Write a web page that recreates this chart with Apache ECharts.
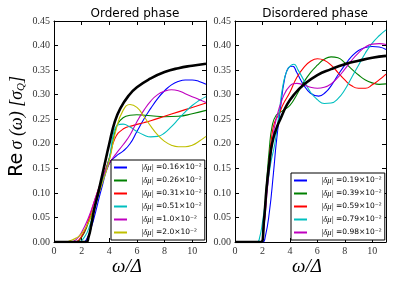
<!DOCTYPE html>
<html><head><meta charset="utf-8">
<script src="https://cdn.jsdelivr.net/npm/echarts@6/dist/echarts.min.js"></script>
<style>html,body{margin:0;padding:0;background:#fff}#c{width:394px;height:285px}</style>
</head><body><div id="c"></div>
<script>
// Tick labels
const xTicks = [0, 2, 4, 6, 8, 10];
const yTicks = [0, 0.05, 0.10, 0.15, 0.20, 0.25, 0.30, 0.35, 0.40, 0.45];
const titles = ['Ordered phase', 'Disordered phase'];

// Ordered phase
const ordNames = ['|δμ| =0.16×10⁻²', '|δμ| =0.26×10⁻²', '|δμ| =0.31×10⁻²', '|δμ| =0.51×10⁻²', '|δμ| =1.0×10⁻²', '|δμ| =2.0×10⁻²'];
const ordBlack = [[0,0],[2.3,0],[2.5,0.01],[2.7,0.035],[2.9,0.065],[3.2,0.1],[3.6,0.15],[4,0.2],[4.4,0.245],[4.8,0.272],[5.4,0.298],[6,0.315],[7,0.333],[8,0.346],[9,0.354],[10,0.359],[11,0.363]];
const ord016 = [[0,0],[2.1,0],[2.4,0.008],[2.7,0.03],[3,0.06],[3.5,0.115],[4,0.16],[4.5,0.175],[5,0.185],[5.5,0.2],[6,0.225],[6.5,0.25],[7,0.272],[7.5,0.292],[8,0.308],[8.5,0.32],[9,0.327],[9.5,0.33],[10,0.33],[10.5,0.327],[11,0.321]];
const ord026 = [[0,0],[1.5,0],[2,0.01],[2.5,0.04],[3,0.08],[3.5,0.125],[4,0.17],[4.3,0.21],[4.6,0.24],[5,0.253],[5.5,0.258],[6,0.259],[7,0.257],[8,0.255],[9,0.256],[10,0.261],[11,0.268]];
const ord031 = [[0,0],[1.4,0],[2,0.012],[2.5,0.045],[3,0.09],[3.5,0.13],[4,0.17],[4.4,0.21],[5,0.23],[5.7,0.237],[6.5,0.243],[7,0.247],[8,0.256],[9,0.265],[10,0.274],[11,0.283]];
const ord051 = [[0,0],[1.7,0],[2.2,0.01],[2.6,0.035],[3,0.075],[3.5,0.125],[4,0.17],[4.3,0.22],[4.6,0.238],[5,0.24],[5.5,0.234],[6,0.225],[6.5,0.218],[7,0.214],[7.5,0.215],[8,0.222],[8.5,0.235],[9,0.25],[9.5,0.265],[10,0.278],[10.5,0.288],[11,0.296]];
const ord10 = [[0,0],[1.2,0],[1.6,0.005],[2,0.02],[2.5,0.05],[3,0.09],[3.5,0.13],[4,0.16],[4.5,0.18],[5,0.198],[5.5,0.218],[6,0.245],[6.5,0.268],[7,0.287],[7.5,0.3],[8,0.307],[8.5,0.31],[9,0.308],[9.5,0.302],[10,0.296],[10.5,0.29],[11,0.284]];
const ord20 = [[0,0],[0.8,0],[1.2,0.003],[1.6,0.008],[2,0.017],[2.5,0.04],[3,0.078],[3.5,0.12],[4,0.165],[4.5,0.23],[5,0.268],[5.5,0.28],[6,0.274],[6.5,0.256],[7,0.236],[7.5,0.218],[8,0.205],[8.5,0.197],[9,0.194],[9.5,0.194],[10,0.197],[10.5,0.205],[11,0.215]];

// Disordered phase
const disNames = ['|δμ| =0.19×10⁻²', '|δμ| =0.39×10⁻²', '|δμ| =0.59×10⁻²', '|δμ| =0.79×10⁻²', '|δμ| =0.98×10⁻²'];
const disBlack = [[0,0],[1.9,0],[2.1,0.04],[2.3,0.11],[2.5,0.16],[2.7,0.2],[3,0.23],[3.3,0.25],[3.8,0.28],[4.3,0.3],[5,0.32],[6,0.34],[7,0.352],[8,0.362],[9,0.369],[10,0.375],[11,0.379]];
const dis019 = [[0,0],[2,0],[2.2,0.01],[2.5,0.06],[2.8,0.14],[3,0.2],[3.3,0.27],[3.6,0.33],[3.9,0.355],[4.2,0.358],[4.5,0.345],[5,0.32],[5.5,0.303],[6.1,0.297],[6.6,0.305],[7,0.318],[7.5,0.34],[8,0.36],[8.5,0.378],[9,0.39],[9.5,0.396],[10,0.398],[10.5,0.397],[11,0.392]];
const dis039 = [[0,0],[1.9,0],[2.1,0.04],[2.3,0.12],[2.5,0.19],[2.7,0.235],[3,0.258],[3.5,0.268],[4,0.278],[4.5,0.3],[5,0.325],[5.5,0.345],[6,0.36],[6.5,0.372],[7,0.377],[7.5,0.375],[8,0.365],[8.5,0.352],[9,0.34],[9.5,0.33],[10,0.324],[10.5,0.321],[11,0.322]];
const dis059 = [[0,0],[1.9,0],[2.1,0.03],[2.3,0.1],[2.5,0.17],[2.7,0.22],[2.9,0.245],[3.2,0.26],[3.5,0.28],[4,0.305],[4.5,0.335],[5,0.355],[5.5,0.368],[6,0.373],[6.5,0.37],[7,0.36],[7.5,0.345],[8,0.33],[8.5,0.318],[9,0.313],[9.5,0.313],[10,0.32],[10.5,0.33],[11,0.342]];
const dis079 = [[0,0],[1.6,0],[1.8,0.01],[2,0.04],[2.3,0.1],[2.6,0.16],[2.9,0.2],[3.2,0.26],[3.5,0.32],[3.8,0.35],[4.1,0.36],[4.3,0.362],[4.6,0.35],[5,0.33],[5.5,0.305],[6,0.29],[6.5,0.282],[7,0.283],[7.5,0.292],[8,0.31],[8.5,0.335],[9,0.36],[9.5,0.385],[10,0.405],[10.5,0.42],[11,0.432]];
const dis098 = [[0,0],[1.9,0],[2.1,0.03],[2.4,0.12],[2.7,0.2],[3,0.25],[3.5,0.295],[4,0.318],[4.5,0.323],[5,0.32],[5.5,0.315],[6,0.313],[6.5,0.315],[7,0.322],[7.5,0.335],[8,0.352],[8.5,0.37],[9,0.385],[9.5,0.397],[10,0.403],[10.5,0.404],[11,0.402]];

const ordColors = ['#0000ff', '#008000', '#ff0000', '#00bfbf', '#bf00bf', '#bfbf00'];
const disColors = ['#0000ff', '#008000', '#ff0000', '#00bfbf', '#bf00bf'];

const chart = echarts.init(document.getElementById('c'), null, {renderer: 'canvas'});
const serif = 'Liberation Serif';
const labelStyle = {fontFamily: serif, fontSize: 10, color: '#333'};

function xAx(gi, pos) {
  return {
    type: 'value', gridIndex: gi, position: pos, min: 0, max: 11, interval: 2,
    axisLine: {show: true, onZero: false, lineStyle: {color: '#000', width: 1}},
    axisTick: {show: true, inside: true, length: 4, lineStyle: {color: '#000'},
      customValues: xTicks},
    axisLabel: pos === 'bottom' ? Object.assign({show: true, margin: 4, customValues: xTicks,
      formatter: v => String(v)}, labelStyle) : {show: false},
    splitLine: {show: false}
  };
}
function yAx(gi, pos) {
  return {
    type: 'value', gridIndex: gi, position: pos, min: 0, max: 0.45, interval: 0.05,
    axisLine: {show: true, onZero: false, lineStyle: {color: '#000', width: 1}},
    axisTick: {show: true, inside: true, length: 4, lineStyle: {color: '#000'}},
    axisLabel: pos === 'left' ? Object.assign({show: true, margin: 4,
      formatter: v => v.toFixed(2)}, labelStyle) : {show: false},
    splitLine: {show: false}
  };
}

function line(name, data, color, xi, yi, width) {
  return {
    type: 'line', name: name, data: data, xAxisIndex: xi, yAxisIndex: yi,
    showSymbol: false, smooth: 0.5, clip: true,
    lineStyle: {color: color, width: width}, itemStyle: {color: color},
    z: width > 2 ? 5 : 3, animation: false
  };
}

const ordSeriesData = [ord016, ord026, ord031, ord051, ord10, ord20];
const disSeriesData = [dis019, dis039, dis059, dis079, dis098];

const series = [];
ordSeriesData.forEach((d, i) => series.push(line(ordNames[i], d, ordColors[i], 0, 0, 1.1)));
series.push(line('ordBlack', ordBlack, '#000', 0, 0, 2.6));
disSeriesData.forEach((d, i) => series.push(line(disNames[i], d, disColors[i], 2, 2, 1.1)));
series.push(line('disBlack', disBlack, '#000', 2, 2, 2.6));

const legendRich = {
  a: {fontFamily: serif, fontStyle: 'italic', fontSize: 8.5, color: '#000'},
  b: {fontFamily: 'DejaVu Sans', fontSize: 7.5, color: '#000'}
};
function legendFmt(name) {
  const p = name.indexOf('=');
  return '{a|' + name.slice(0, p) + '}{b|' + name.slice(p) + '}';
}
function legend(names, left, top) {
  return {
    data: names.map(n => ({name: n, icon: 'rect'})), orient: 'vertical', left: left, top: top,
    itemWidth: 13, itemHeight: 2, itemGap: 4,
    padding: [3, 3, 3, 3], borderColor: '#000', borderWidth: 1, backgroundColor: '#fff',
    formatter: legendFmt, textStyle: {rich: legendRich, lineHeight: 9, padding: [0, 0, 0, 9]},
    selectedMode: false
  };
}

chart.setOption({
  animation: false,
  backgroundColor: '#fff',
  title: [
    {text: titles[0], left: 130, top: 3, textAlign: 'center',
      textStyle: {fontFamily: 'DejaVu Sans', fontSize: 12, fontWeight: 'normal', color: '#000'}},
    {text: titles[1], left: 310, top: 3, textAlign: 'center',
      textStyle: {fontFamily: 'DejaVu Sans', fontSize: 12, fontWeight: 'normal', color: '#000'}}
  ],
  grid: [
    {left: 54, top: 21, width: 152, height: 221},
    {left: 235, top: 21, width: 151, height: 221}
  ],
  xAxis: [xAx(0, 'bottom'), xAx(0, 'top'), xAx(1, 'bottom'), xAx(1, 'top')],
  yAxis: [yAx(0, 'left'), yAx(0, 'right'), yAx(1, 'left'), yAx(1, 'right')],
  legend: [legend(ordNames, 111, 160), legend(disNames, 291, 173)],
  series: series,
  graphic: [
    {type: 'text', left: 8, top: 76, rotation: Math.PI / 2,
      style: {
        text: '{re|Re} {m|σ (ω) [σ}{sub|Q}{m|]}',
        rich: {
          re: {fontFamily: 'DejaVu Sans', fontSize: 19, fill: '#000'},
          m: {fontFamily: serif, fontStyle: 'italic', fontSize: 18, fill: '#000'},
          sub: {fontFamily: serif, fontStyle: 'italic', fontSize: 11, fill: '#000', verticalAlign: 'bottom', padding: [8, 0, 0, 0]}
        }
      }},
    {type: 'text', left: 112, top: 257,
      style: {text: 'ω/Δ', fontFamily: serif, fontStyle: 'italic', fontSize: 19, fill: '#000'}},
    {type: 'text', left: 292, top: 257,
      style: {text: 'ω/Δ', fontFamily: serif, fontStyle: 'italic', fontSize: 19, fill: '#000'}}
  ]
});
</script>
</body></html>
